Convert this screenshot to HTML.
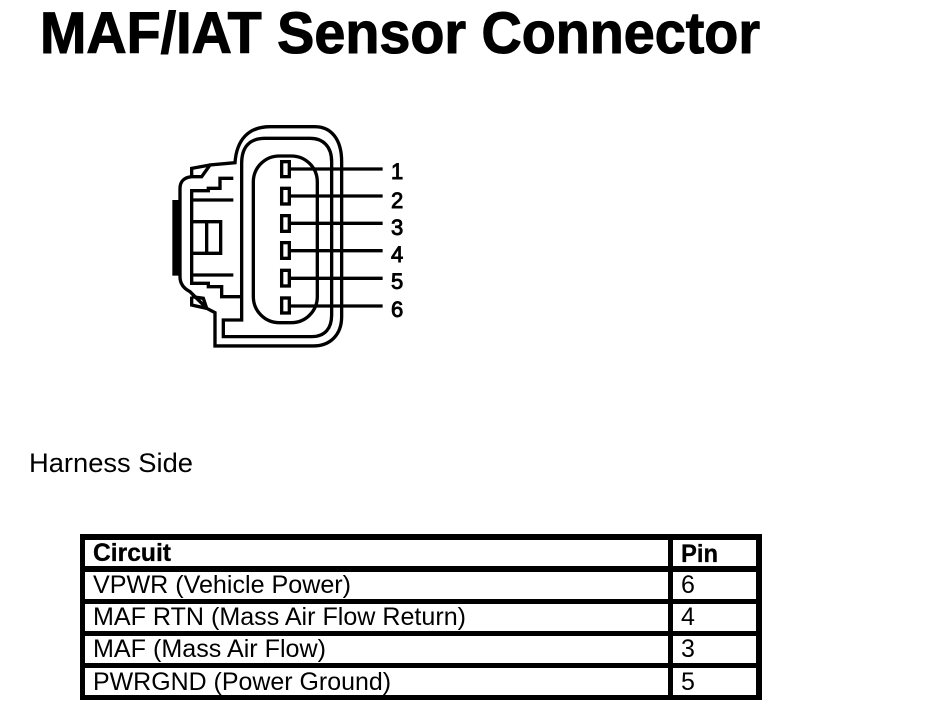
<!DOCTYPE html>
<html><head><meta charset="utf-8"><style>
html,body{margin:0;padding:0;background:#fff;width:928px;height:714px;overflow:hidden}
svg{display:block}
text{font-family:"Liberation Sans",sans-serif;fill:#000}
</style></head><body>
<svg width="928" height="714" viewBox="0 0 928 714" xmlns="http://www.w3.org/2000/svg">
<text x="40" y="53" font-size="58" font-weight="bold" stroke="#000" stroke-width="1.1" textLength="720" lengthAdjust="spacingAndGlyphs">MAF/IAT Sensor Connector</text>
<g transform="translate(160,120) scale(0.3333)" fill="none" stroke="#000" stroke-width="10">
<path d="M165 678 L165 578 L140 565 L90 515 C70 505 60 490 60 470 L60 205 C60 185 72 172 95 170 L125 170 L150 135 L225 128 C230 60 265 20 330 20 L465 20 C515 20 545 60 545 125 L545 590 C545 645 510 678 460 678 Z"/>
<path d="M95 170 L95 145 L150 135"/>
<path d="M95 530 L95 555 L140 565 M95 530 L130 535 L140 565"/>
<path d="M245 600 L190 600 L190 650 L455 650 C495 650 515 625 515 585 L515 125 C515 80 490 55 450 55 L315 55 C270 55 245 80 245 130 Z"/>
<rect x="280" y="108" width="192" height="500" rx="78" ry="78"/>
<path d="M220 175 L180 175 L180 205 L145 205 L145 212 L95 212 L95 490 L145 490 L145 500 L185 500 L185 530 L245 530"/>
<path d="M95 240 H220 M95 465 H220"/>
<path d="M95 305 H182 V400 H95 M140 305 V400"/>
<path d="M388 147 H668 M388 228 H668 M388 310 H668 M388 392 H668 M388 475 H668 M388 558 H668"/>
<rect x="365" y="125" width="23" height="45" fill="#fff"/>
<rect x="365" y="205" width="23" height="47" fill="#fff"/>
<rect x="365" y="287" width="23" height="47" fill="#fff"/>
<rect x="365" y="368" width="23" height="47" fill="#fff"/>
<rect x="365" y="451" width="23" height="47" fill="#fff"/>
<rect x="365" y="534" width="23" height="45" fill="#fff"/>
<rect x="37" y="240" width="23" height="227" fill="#000" stroke="none"/>
</g>
<g font-size="22" stroke="#000" stroke-width="0.9">
<text x="391" y="179">1</text>
<text x="391" y="208">2</text>
<text x="391" y="235">3</text>
<text x="391" y="262">4</text>
<text x="391" y="289">5</text>
<text x="391" y="317">6</text>
</g>
<text x="29" y="472" font-size="27" textLength="164" lengthAdjust="spacingAndGlyphs">Harness Side</text>
<g fill="#000" shape-rendering="crispEdges">
<rect x="80" y="534" width="682" height="6"/>
<rect x="80" y="695" width="682" height="5"/>
<rect x="80" y="534" width="5" height="166"/>
<rect x="756" y="534" width="6" height="166"/>
<rect x="668" y="534" width="5" height="166"/>
<rect x="80" y="566" width="682" height="6"/>
<rect x="80" y="599" width="682" height="5"/>
<rect x="80" y="631" width="682" height="5"/>
<rect x="80" y="663" width="682" height="5"/>
</g>
<text x="93" y="561" font-size="25" font-weight="bold" stroke="#000" stroke-width="0.3" textLength="78" lengthAdjust="spacingAndGlyphs">Circuit</text>
<text x="681" y="562" font-size="25" font-weight="bold" stroke="#000" stroke-width="0.3" textLength="37" lengthAdjust="spacingAndGlyphs">Pin</text>
<g font-size="25">
<text x="93" y="593" textLength="258" lengthAdjust="spacingAndGlyphs">VPWR (Vehicle Power)</text>
<text x="93" y="625" textLength="373" lengthAdjust="spacingAndGlyphs">MAF RTN (Mass Air Flow Return)</text>
<text x="93" y="657" textLength="233" lengthAdjust="spacingAndGlyphs">MAF (Mass Air Flow)</text>
<text x="93" y="690" textLength="298" lengthAdjust="spacingAndGlyphs">PWRGND (Power Ground)</text>
<text x="681" y="593">6</text>
<text x="681" y="625">4</text>
<text x="681" y="657">3</text>
<text x="681" y="690">5</text>
</g>
</svg>
</body></html>
